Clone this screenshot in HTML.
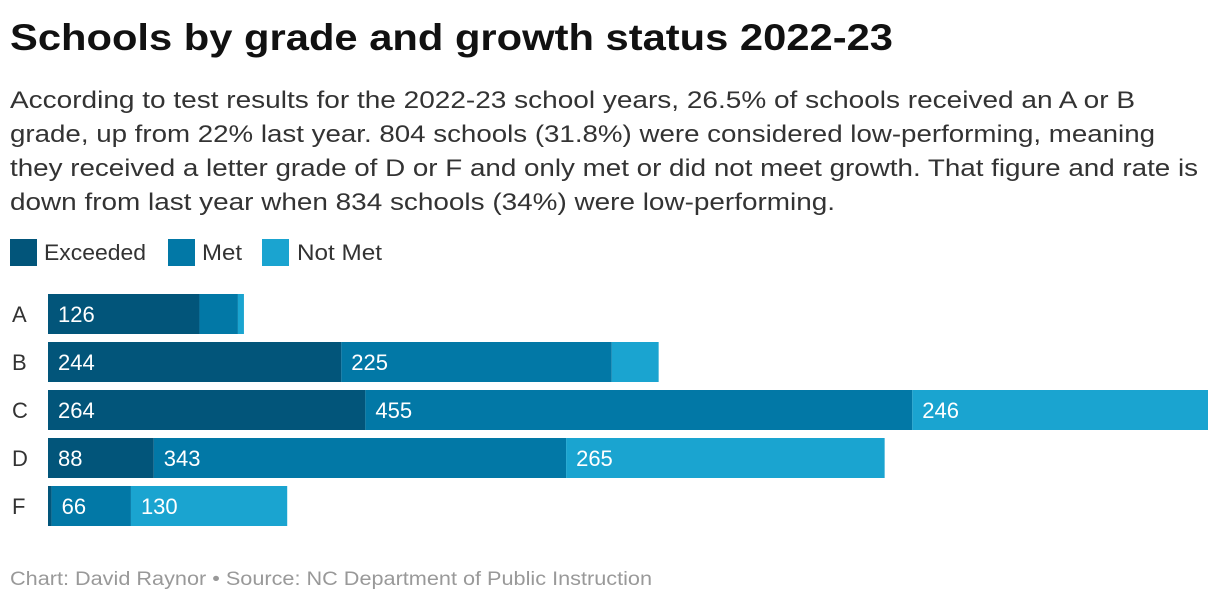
<!DOCTYPE html>
<html><head><meta charset="utf-8"><style>
body{margin:0;width:1220px;height:604px;background:#fff;font-family:"Liberation Sans",sans-serif;color:#222;position:relative;overflow:hidden}
svg{position:absolute;left:0;top:0}
</style></head><body>
<svg id="chart" width="1220" height="604" font-family="Liberation Sans, sans-serif">
<text x="10" y="50" font-size="37" font-weight="bold" fill="#111" textLength="883" lengthAdjust="spacingAndGlyphs">Schools by grade and growth status 2022-23</text>
<g font-size="24" fill="#333">
<text x="10" y="108" textLength="1125" lengthAdjust="spacingAndGlyphs">According to test results for the 2022-23 school years, 26.5% of schools received an A or B</text>
<text x="10" y="142" textLength="1145" lengthAdjust="spacingAndGlyphs">grade, up from 22% last year. 804 schools (31.8%) were considered low-performing, meaning</text>
<text x="10" y="176" textLength="1188" lengthAdjust="spacingAndGlyphs">they received a letter grade of D or F and only met or did not meet growth. That figure and rate is</text>
<text x="10" y="210" textLength="825" lengthAdjust="spacingAndGlyphs">down from last year when 834 schools (34%) were low-performing.</text>
</g>
<g font-size="22" fill="#333">
<rect x="10" y="239" width="27" height="27" fill="#02557a"/>
<text x="44" y="260" textLength="102" lengthAdjust="spacingAndGlyphs">Exceeded</text>
<rect x="168" y="239" width="27" height="27" fill="#0278a6"/>
<text x="202" y="260" textLength="40" lengthAdjust="spacingAndGlyphs">Met</text>
<rect x="262" y="239" width="27" height="27" fill="#1aa4d0"/>
<text x="297" y="260" textLength="85" lengthAdjust="spacingAndGlyphs">Not Met</text>
</g>
<text x="10" y="585" font-size="19" fill="#999" textLength="642" lengthAdjust="spacingAndGlyphs">Chart: David Raynor • Source: NC Department of Public Instruction</text>
</svg>
<script>
const categories=["A","B","C","D","F"];
const exceeded=[126,244,264,88,3];
const met=[32,225,455,343,66];
const notMet=[5,39,246,265,130];
const series=[exceeded,met,notMet];
const seriesNames=["exceeded","met","not-met"];
const colors=["#02557a","#0278a6","#1aa4d0"];
const svg=document.getElementById('chart');
const NS="http://www.w3.org/2000/svg";
const x0=48,x1=1208,y0=294,bh=40,pitch=48;
const maxT=Math.max(...categories.map((c,i)=>exceeded[i]+met[i]+notMet[i]));
const xs=v=>v*(x1-x0)/maxT;
categories.forEach((c,i)=>{
  const y=y0+i*pitch;
  const t=document.createElementNS(NS,'text');
  t.setAttribute('x',12);t.setAttribute('y',y+bh/2+8);t.setAttribute('font-size','22');t.setAttribute('fill','#333');
  t.textContent=c;
  
  
  svg.appendChild(t);
  let acc=0;
  series.forEach((s,j)=>{
    const v=s[i];const x=x0+xs(acc);const w=xs(v);acc+=v;
    const r=document.createElementNS(NS,'rect');
    r.setAttribute('x',x);r.setAttribute('y',y);r.setAttribute('width',w);r.setAttribute('height',bh);r.setAttribute('fill',colors[j]);
    
    
    svg.appendChild(r);
    if(w>50){
      const l=document.createElementNS(NS,'text');
      l.setAttribute('x',x+10);l.setAttribute('y',y+bh/2+8);l.setAttribute('font-size','22');l.setAttribute('fill','#fff');
      l.textContent=v;
      
      
      svg.appendChild(l);
    }
  });
});
</script>
</body></html>
